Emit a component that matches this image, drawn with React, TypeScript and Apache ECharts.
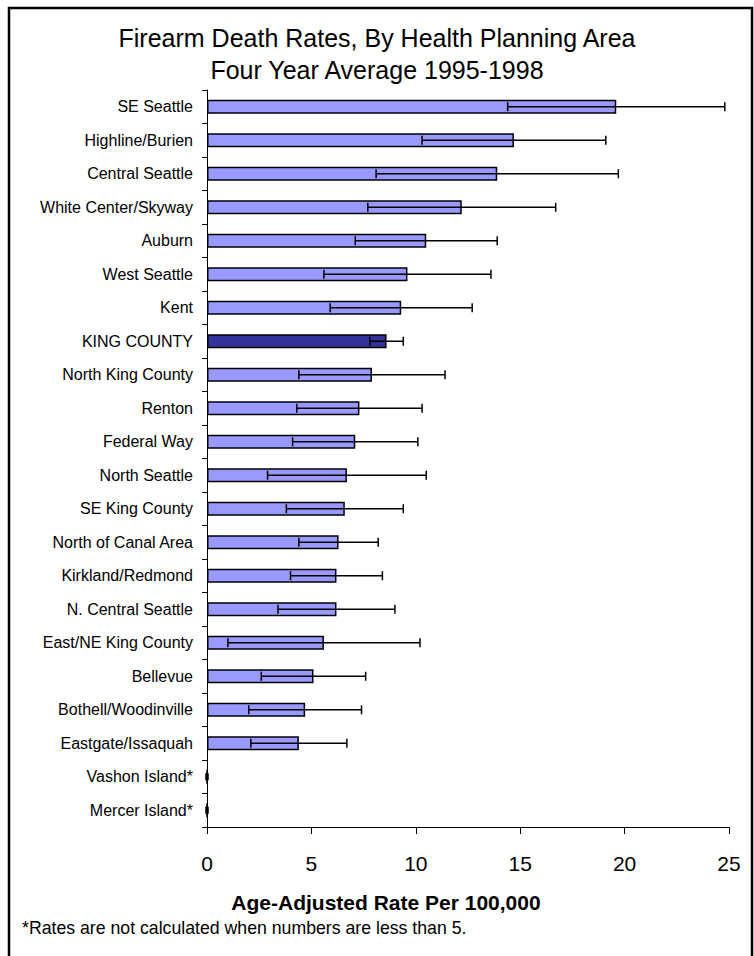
import React, { useEffect, useRef } from "react";
import * as echarts from "echarts";

const categories = [
  "SE Seattle",
  "Highline/Burien",
  "Central Seattle",
  "White Center/Skyway",
  "Auburn",
  "West Seattle",
  "Kent",
  "KING COUNTY",
  "North King County",
  "Renton",
  "Federal Way",
  "North Seattle",
  "SE King County",
  "North of Canal Area",
  "Kirkland/Redmond",
  "N. Central Seattle",
  "East/NE King County",
  "Bellevue",
  "Bothell/Woodinville",
  "Eastgate/Issaquah",
  "Vashon Island*",
  "Mercer Island*",
];

const rates = [19.6, 14.7, 13.9, 12.2, 10.5, 9.6, 9.3, 8.6, 7.9, 7.3, 7.1, 6.7, 6.6, 6.3, 6.2, 6.2, 5.6, 5.1, 4.7, 4.4, 0, 0];
const lower = [14.4, 10.3, 8.1, 7.7, 7.1, 5.6, 5.9, 7.8, 4.4, 4.3, 4.1, 2.9, 3.8, 4.4, 4.0, 3.4, 1.0, 2.6, 2.0, 2.1, 0, 0];
const upper = [24.8, 19.1, 19.7, 16.7, 13.9, 13.6, 12.7, 9.4, 11.4, 10.3, 10.1, 10.5, 9.4, 8.2, 8.4, 9.0, 10.2, 7.6, 7.4, 6.7, 0, 0];

const xTicks = [0, 5, 10, 15, 20, 25];
const highlight = "KING COUNTY";

const FONT = "'Liberation Sans', Arial, Helvetica, sans-serif";

export default function App() {
  const ref = useRef<HTMLDivElement>(null);

  useEffect(() => {
    if (!ref.current) return;
    const chart = echarts.init(ref.current, null, { renderer: "svg" });

    const barData = rates.map((v, i) => ({
      value: v,
      itemStyle: {
        color: categories[i] === highlight ? "#333399" : "#9999FF",
        borderColor: "#000",
        borderWidth: 1.5,
      },
    }));
    const errData = categories.map((_, i) => [i, lower[i], upper[i]]);

    chart.setOption({
      animation: false,
      backgroundColor: "#fff",
      textStyle: { fontFamily: FONT },
      title: {
        text: "Firearm Death Rates, By Health Planning Area\nFour Year Average 1995-1998",
        left: "center",
        top: 17,
        textStyle: {
          fontFamily: FONT,
          fontSize: 25,
          fontWeight: "normal",
          color: "#000",
          lineHeight: 32,
        },
      },
      grid: { left: 207, right: 25, top: 90, bottom: 129, containLabel: false },
      xAxis: {
        type: "value",
        min: xTicks[0],
        max: xTicks[xTicks.length - 1],
        interval: 5,
        axisLine: { show: true, lineStyle: { color: "#000", width: 1 } },
        axisTick: { show: true, length: 7, lineStyle: { color: "#000" } },
        splitLine: { show: false },
        axisLabel: { fontFamily: FONT, fontSize: 21, color: "#000", margin: 26 },
      },
      yAxis: {
        type: "category",
        data: categories,
        inverse: true,
        axisLine: { show: true, lineStyle: { color: "#000", width: 1 } },
        axisTick: { show: true, length: 5, lineStyle: { color: "#000" } },
        axisLabel: { fontFamily: FONT, fontSize: 16, color: "#000", margin: 14 },
      },
      series: [
        {
          type: "bar",
          data: barData,
          barWidth: 14,
          z: 2,
        },
        {
          type: "custom",
          data: errData,
          encode: { y: 0, x: [1, 2] },
          z: 3,
          renderItem: (params: any, api: any) => {
            const idx = api.value(0);
            const lo = api.coord([api.value(1), idx]);
            const hi = api.coord([api.value(2), idx]);
            const zero = api.value(2) === 0;
            const h = zero ? 3.5 : 4.5;
            const style = { stroke: "#000", lineWidth: zero ? 3 : 1.5 };
            return {
              type: "group",
              children: [
                { type: "line", shape: { x1: lo[0], y1: lo[1], x2: hi[0], y2: hi[1] }, style },
                { type: "line", shape: { x1: lo[0], y1: lo[1] - h, x2: lo[0], y2: lo[1] + h }, style },
                { type: "line", shape: { x1: hi[0], y1: hi[1] - h, x2: hi[0], y2: hi[1] + h }, style },
              ],
            };
          },
        },
      ],
      graphic: [
        {
          type: "rect",
          shape: { x: 9, y: 8, width: 743, height: 1000 },
          style: { fill: "none", stroke: "#000", lineWidth: 2.5 },
          z: 10,
        },
        {
          type: "text",
          x: 386,
          y: 902,
          style: {
            text: "Age-Adjusted Rate Per 100,000",
            font: `bold 21px ${FONT}`,
            fill: "#000",
            textAlign: "center",
            textVerticalAlign: "middle",
          },
        },
        {
          type: "text",
          x: 22,
          y: 928,
          style: {
            text: "*Rates are not calculated when numbers are less than 5.",
            font: `17.7px ${FONT}`,
            fill: "#000",
            textAlign: "left",
            textVerticalAlign: "middle",
          },
        },
      ],
    });

    return () => chart.dispose();
  }, []);

  return (
    <div
      ref={ref}
      style={{ position: "absolute", left: 0, top: 0, width: 754, height: 956 }}
    />
  );
}
